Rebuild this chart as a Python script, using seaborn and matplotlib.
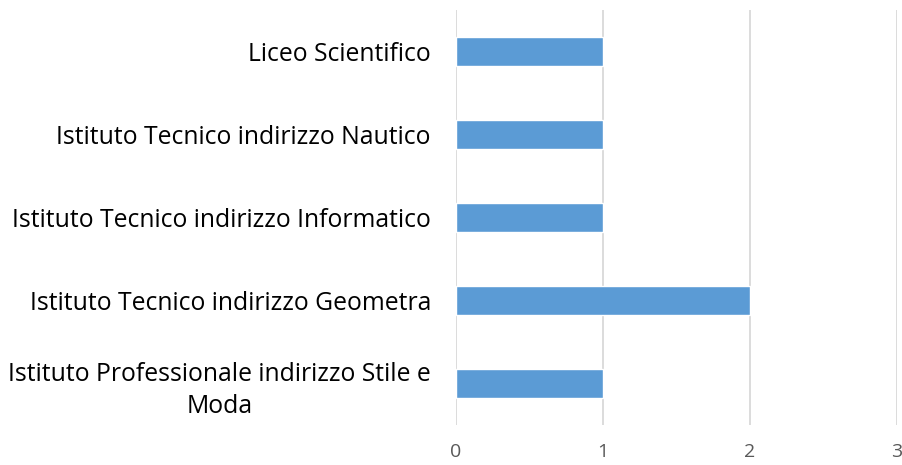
import matplotlib
matplotlib.use("Agg")
import matplotlib.pyplot as plt
import seaborn as sns
import pandas as pd

categories = [
    "Liceo Scientifico",
    "Istituto Tecnico indirizzo Nautico",
    "Istituto Tecnico indirizzo Informatico",
    "Istituto Tecnico indirizzo Geometra",
    "Istituto Professionale indirizzo Stile e\nModa",
]
values = [1, 1, 1, 2, 1]
xticks = [0, 1, 2, 3]

sns.set_theme(style="white")
plt.rcParams["font.family"] = ["Open Sans", "DejaVu Sans"]

df = pd.DataFrame({"cat": categories, "val": values})

fig = plt.figure(figsize=(9.02, 4.65), dpi=100)
ax = fig.add_axes([0.5055, 0.086, 0.489, 0.8925])
sns.barplot(data=df, x="val", y="cat", orient="h", color="#5B9BD5",
            saturation=1, width=0.355, ax=ax, zorder=3)

ax.set_xlim(0, 3)
ax.set_xticks(xticks)
ax.set_xlabel("")
ax.set_ylabel("")
ax.grid(axis="x", color="#D9D9D9", linewidth=1.3, zorder=0)
ax.set_axisbelow(True)
for s in ax.spines.values():
    s.set_visible(False)
ax.tick_params(axis="x", length=0, pad=13, labelsize=14, labelcolor="#595959")
ax.tick_params(axis="y", length=0, pad=18, labelsize=17.8, labelcolor="#000000")
for lab in ax.get_yticklabels():
    lab.set_multialignment("center")
    lab.set_linespacing(1.4)

fig.savefig("out.png", dpi=100)
